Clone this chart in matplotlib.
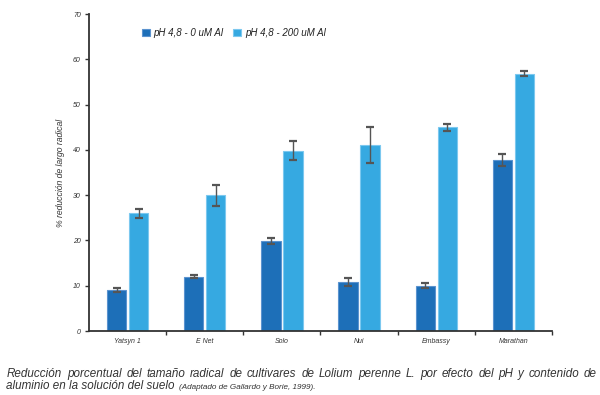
import matplotlib
matplotlib.use("Agg")
import matplotlib.pyplot as plt
import numpy as np

categories = ["Yatsyn 1", "E Net", "Solo", "Nui", "Embassy", "Marathan"]
series_names = ["pH 4,8 - 0 uM Al", "pH 4,8 - 200 uM Al"]
vals_0 = [9.0, 12.0, 19.9, 10.9, 10.0, 37.8]
err_0 = [0.4, 0.3, 0.7, 0.9, 0.5, 1.3]
vals_200 = [26.0, 30.0, 39.8, 41.0, 45.0, 56.8]
err_200 = [1.0, 2.3, 2.1, 4.0, 0.8, 0.6]
yticks = [0, 10, 20, 30, 40, 50, 60, 70]

caption1 = "Reducción porcentual del tamaño radical de cultivares de Lolium perenne L. por efecto del pH y contenido de"
caption2 = "aluminio en la solución del suelo "
source = "(Adaptado de Gallardo y Borie, 1999)."

c_dark = "#1d6fb8"
c_light = "#36a9e1"
edge_dark = "#5b93cf"
edge_light = "#7cc8ef"

plt.rcParams["font.family"] = ["Liberation Sans", "DejaVu Sans"]

fig = plt.figure(figsize=(6.0, 3.95), dpi=100)
ax = fig.add_axes([89/600, 1-331/395, (552-89)/600, (331-14)/395])

x = np.arange(len(categories))
w = 0.25
off = 0.142
ax.bar(x - off, vals_0, w, color=c_dark, edgecolor=edge_dark, linewidth=0.8, label=series_names[0], zorder=2)
ax.bar(x + off, vals_200, w, color=c_light, edgecolor=edge_light, linewidth=0.8, label=series_names[1], zorder=2)

for xs, v, e in [(x - off, vals_0, err_0), (x + off, vals_200, err_200)]:
    line, caps, bars = ax.errorbar(xs, v, yerr=e, fmt="none", ecolor="#555555", elinewidth=1.0,
                                   capsize=3, capthick=1.6, zorder=3)
    for c in caps:
        c.set_color("#1a1a1a")

ax.set_xlim(-0.5, len(categories) - 0.5)
ax.set_ylim(0, 70)
ax.set_yticks(yticks)
ax.set_yticklabels([str(t) for t in yticks], fontsize=5, style="italic", color="#333333")
ax.set_xticks(x)
ax.set_xticklabels(categories, fontsize=5, style="italic", color="#333333")
ax.tick_params(axis="x", which="major", length=0, pad=5)
ax.set_xticks(np.arange(0.5, len(categories) - 0.4, 1.0), minor=True)
ax.tick_params(axis="x", which="minor", length=3, width=1, color="#333333", direction="out")
ax.tick_params(axis="y", length=3, width=1, color="#333333", direction="out", pad=3)

for s in ["top", "right"]:
    ax.spines[s].set_visible(False)
for s in ["left", "bottom"]:
    ax.spines[s].set_color("#333333")
    ax.spines[s].set_linewidth(1.3)

ax.set_ylabel("% reducción de largo radical", fontsize=6.2, style="italic", color="#333333", labelpad=6)

leg = ax.legend(loc="upper left", bbox_to_anchor=(138/600, 1-24/395), bbox_transform=fig.transFigure,
                ncol=2, frameon=False, fontsize=7, handlelength=0.8, handleheight=0.8,
                handletextpad=0.4, columnspacing=1.0, borderaxespad=0)
for t in leg.get_texts():
    t.set_style("italic")
    t.set_color("#222222")

# justified first caption line
fig.canvas.draw()
renderer = fig.canvas.get_renderer()
words = caption1.split(" ")
fs = 8.4
y1 = 1 - 377/395
y2 = 1 - 389/395
txts = [fig.text(0, y1, wd, fontsize=fs, style="italic", color="#333333", va="baseline", ha="left") for wd in words]
widths = [t.get_window_extent(renderer).width for t in txts]
x_left, x_right = 7.0, 597.0
gap = (x_right - x_left - sum(widths)) / (len(words) - 1)
xpos = x_left
for t, wd in zip(txts, widths):
    t.set_x(xpos / 600)
    xpos += wd + gap

t2 = fig.text(6/600, y2, caption2, fontsize=fs, style="italic", color="#333333", va="baseline", ha="left")
bb = t2.get_window_extent(renderer)
fig.text((bb.x1 + 1)/600, y2, source, fontsize=5.9, style="italic",
         color="#333333", va="baseline", ha="left")

fig.savefig("out.png", dpi=100)
